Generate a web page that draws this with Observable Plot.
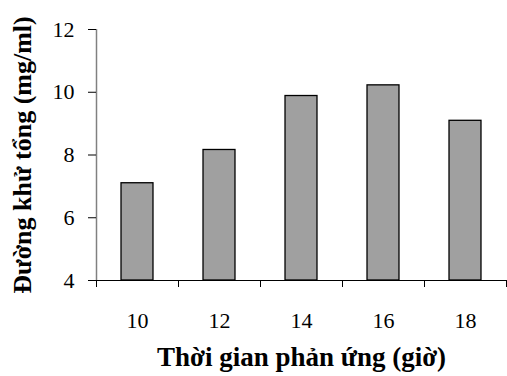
<!DOCTYPE html>
<html>
<head>
<meta charset="utf-8">
<script src="https://cdn.jsdelivr.net/npm/d3@7"></script>
<script src="https://cdn.jsdelivr.net/npm/@observablehq/plot@0.6"></script>
<style>
  html, body { margin: 0; padding: 0; background: #fff; }
</style>
</head>
<body>
<div id="chart"></div>
<script>
const hours = [10, 12, 14, 16, 18];
const sugar = [7.1, 8.16, 9.88, 10.22, 9.09];
const yTicks = [4, 6, 8, 10, 12];
const xBoundaries = [9, 11, 13, 15, 17, 19];
const yTitle = "Đường khử tổng (mg/ml)";
const xTitle = "Thời gian phản ứng (giờ)";

const data = hours.map((h, i) => ({hour: h, value: sugar[i]}));
const half = 0.39;

const chart = Plot.plot({
  width: 507,
  height: 376,
  marginLeft: 96,
  marginRight: 1,
  marginTop: 29,
  marginBottom: 96,
  style: {fontFamily: "'Liberation Serif', 'Times New Roman', serif", fontSize: "22px", color: "#000", background: "#fff"},
  x: {domain: [9, 19]},
  y: {domain: [4, 12]},
  marks: [
    Plot.rectY(data, {x1: d => d.hour - half, x2: d => d.hour + half, y1: () => 4, y2: "value", fill: "#a0a0a0", stroke: "#000", strokeWidth: 1.3}),
    Plot.ruleX([9], {stroke: "#808080", strokeWidth: 1.5}),
    Plot.ruleY([4], {stroke: "#000", strokeWidth: 1.2}),
    Plot.axisY({ticks: yTicks, tickSize: 8, tickPadding: 14, label: null, stroke: "#000", fill: "#000", fontSize: 22}),
    Plot.axisX({ticks: xBoundaries, tickSize: 7, tickFormat: () => "", label: null, stroke: "#000"}),
    Plot.axisX({ticks: hours, tickSize: 0, tickPadding: 32, label: null, fill: "#000", fontSize: 22}),
    Plot.text([yTitle], {frameAnchor: "left", textAnchor: "middle", dx: -74, rotate: -90, fontWeight: "bold", fontSize: 26, fill: "#000"}),
    Plot.text([xTitle], {frameAnchor: "bottom", textAnchor: "middle", dy: 85, fontWeight: "bold", fontSize: 27, fill: "#000"})
  ]
});
document.getElementById("chart").appendChild(chart);
</script>
</body>
</html>
